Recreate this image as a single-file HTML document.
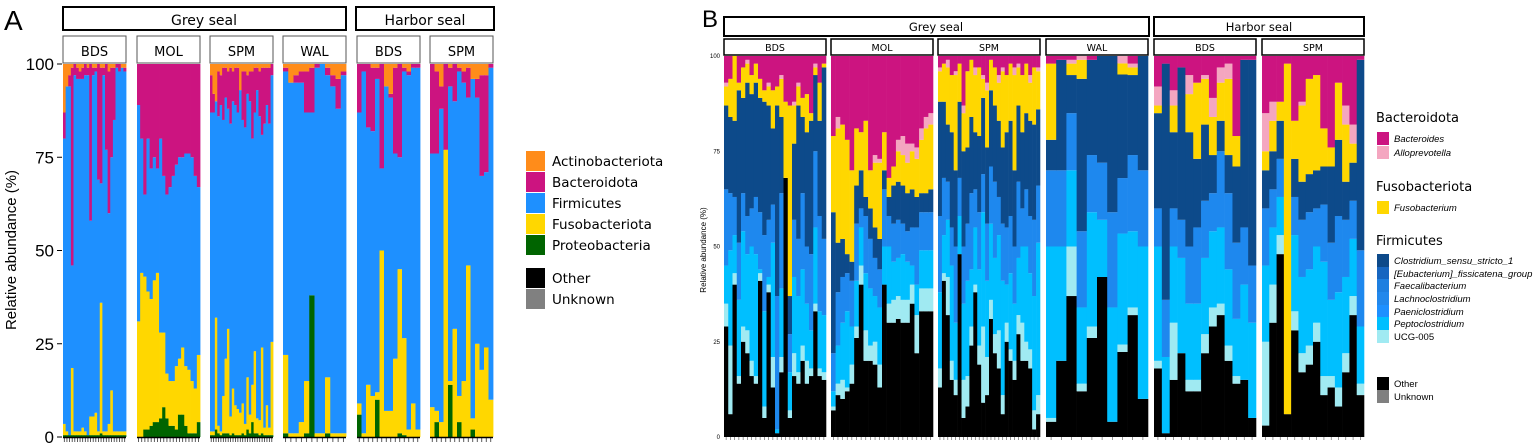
<!DOCTYPE html>
<html><head><meta charset="utf-8"><style>
body{margin:0;background:#fff;}
svg{display:block;font-family:"Liberation Sans",sans-serif;}
.st{font-family:"DejaVu Sans","Liberation Sans",sans-serif;}
</style></head><body>
<svg id="c" width="1535" height="446" viewBox="0 0 1535 446"></svg>
<script>
// ---------- Panel A data (phylum relative abundance %) ----------
const facetsA = ["BDS","MOL","SPM","WAL","BDS","SPM"];
const actinoA = [
 [13,6,3,1,0,1,2,1,0,1,0,1,1,0,1,1,0,2,1,1,0,0,1,1],
 [0,0,0,0,0,0,0,0,0,0,0,0,0,0,0,0,0,0,0,0],
 [3,8,10,2,3,1,1,2,1,2,1,1,7,2,2,3,2,2,1,1,2,1,1,1,1,0],
 [1,5,3,2,2,1,0,0,1,3,4,2],
 [0,0,0,1,1,0,6,8,1,0,1,2,0,0],
 [0,2,6,0,1,0,1,2,1,4,4,3,3,0]];
const bactA = [
 [7,0,3,53,3,3,2,3,3,2,42,2,1,31,31,2,23,38,24,14,1,2,0,1],
 [11,20,35,20,28,25,28,20,30,35,33,30,27,25,25,24,24,25,30,33],
 [10,5,0,12,8,14,8,10,15,8,10,12,0,13,15,5,8,18,12,6,12,18,15,10,15,3],
 [1,0,2,3,11,12,1,0,2,3,8,1],
 [13,2,17,17,3,28,0,1,23,25,1,1,1,1],
 [24,22,6,23,5,10,1,3,8,0,5,27,26,1]];
const fusoA = [
 [3,1,0,18,1,1,1,2,1,0,5,5,6,1,35,1,1,3,12,1,1,1,1,1],
 [31,44,41,37,34,38,40,23,20,12,12,12,17,15,18,16,17,14,12,18],
 [1,1,30,2,1,10,20,28,5,12,8,7,6,8,3,14,5,10,22,4,4,23,2,8,2,25],
 [21,1,1,4,14,0,1,1,15,1,1,1],
 [3,1,14,11,2,50,7,7,21,44,26,2,9,2],
 [8,3,4,77,1,29,7,15,46,3,25,18,24,10]];
const proteoA = [
 [0.5,0.5,0.5,0.5,0.5,0.5,0.5,0.5,0.5,0.5,0.5,0.5,0.5,0.5,1,0.5,0.5,0.5,0.5,0.5,0.5,0.5,0.5,0.5],
 [0,0,2,2,3,4,4,5,8,5,3,3,2,6,6,3,1,1,1,4],
 [0.5,0.5,2,1,0.5,1,1,1,0.5,1,0.5,0.5,0.5,1,0.5,2,1,4,1,1,0.5,1,0.5,0.5,0.5,0.5],
 [1,0,0,0,1,38,0,0,1,0,0,0],
 [6,0,0,0,10,0,0,0,0,1,0.5,0,0,0],
 [0,4,0,0,14,0,4,0,0,2,0,0,0,0]];
const ticksA = ["0","25","50","75","100"];

// ---------- Panel B data (genus relative abundance %) ----------
const facetsB = ["BDS","MOL","SPM","WAL","BDS","SPM"];
const otherB = [
 [29,6,40,14,25,22,16,14,41,5,38,13,1,17,68,5,16,14,20,14,16,33,16,15],
 [7,11,10,12,14,26,40,20,20,19,13,40,30,30,31,30,30,35,22,33,33,33],
 [13,41,32,15,11,48,5,8,24,38,19,9,11,31,22,18,6,25,20,15,27,20,20,18,2,6],
 [4,20,37,12,26,42,4,23,32,10],
 [18,1,15,22,12,12,22,29,32,20,14,15,5],
 [3,30,48,6,28,17,19,25,11,13,8,17,32,11]];
const ucgB = [
 [6,18,3,2,4,6,4,2,2,3,2,8,0,4,0,2,6,3,4,6,2,2,2,2],
 [1,3,5,1,5,3,5,8,4,6,6,0,5,6,6,6,6,5,10,6,6,6],
 [5,2,10,5,4,0,10,8,5,2,5,20,10,5,5,10,5,5,3,5,5,10,5,5,5,5],
 [1,0,13,2,3,0,0,2,2,0],
 [2,0,15,0,3,3,5,5,3,4,2,0,0],
 [22,10,5,0,5,5,5,5,5,3,5,5,5,3]];
const peptoB = [
 [10,25,10,20,25,20,30,32,1,25,2,30,1,18,0,10,20,20,20,15,10,20,15,15],
 [4,10,15,20,10,12,10,15,15,12,15,10,15,10,10,12,10,5,8,10,10,10],
 [20,10,15,25,15,10,20,25,15,15,20,30,20,20,20,25,30,10,20,15,15,20,25,20,30,40],
 [45,30,20,20,30,15,30,30,20,40],
 [30,20,20,25,20,20,20,20,20,20,15,25,25],
 [20,15,10,0,20,20,20,20,30,20,25,20,15,15]];
const paeniB = [
 [20,15,10,15,10,10,10,15,15,20,15,10,35,25,0,10,15,15,20,15,20,20,25,20],
 [10,14,12,10,12,15,5,15,13,10,10,15,8,10,10,8,8,10,15,10,10,10],
 [20,15,10,10,20,10,15,15,20,10,15,10,15,15,20,10,15,15,15,15,20,10,15,15,20,15],
 [20,20,15,20,15,15,25,15,20,20],
 [10,15,10,10,15,20,15,10,20,20,20,15,15],
 [15,10,10,0,10,15,15,10,15,15,20,15,10,20]];
const clostB = [
 [22,20,20,40,25,35,30,30,30,35,30,20,50,20,0,10,20,35,20,30,35,20,25,45],
 [37,13,10,5,5,10,10,5,8,8,8,5,5,10,10,10,10,10,8,5,5,6],
 [30,20,15,25,20,20,25,20,20,15,20,20,20,20,20,20,20,25,25,20,20,20,20,25,25,20],
 [8,29,10,40,25,28,41,28,21,30],
 [25,62,20,40,30,18,20,10,8,10,20,44,54],
 [10,10,10,0,10,10,10,10,10,20,20,10,10,50]];
const fusoB = [
 [5,10,17,2,8,5,5,5,5,3,5,10,5,10,20,50,10,5,5,10,2,2,10,1],
 [20,30,30,30,24,15,10,20,10,17,20,10,5,5,8,8,8,10,10,14,17,17],
 [8,10,15,15,25,10,10,20,15,15,18,5,15,8,10,10,20,15,15,25,10,15,13,10,15,10],
 [20,0,3,5,0,0,0,3,2,0],
 [2,0,7,0,10,20,12,10,10,20,8,0,0],
 [5,8,5,92,10,20,25,25,10,5,15,15,5,0]];
const alloB = [
 [1,0,0,0,0,1,0,0,0,0,1,0,0,1,0,0,1,1,0,0,0,1,0,0],
 [0,3,0,0,0,0,0,0,0,2,1,0,0,0,3,5,5,2,3,3,3,3],
 [1,0,2,0,1,0,2,0,0,2,0,1,2,0,0,2,1,0,0,2,1,0,0,2,0,1],
 [0,0,1,1,0,0,0,2,1,0],
 [5,0,4,0,5,0,1,5,4,4,0,0,0],
 [10,5,0,0,0,1,0,0,0,0,0,5,5,0]];
const ticksB = ["0","25","50","75","100"];

const NS="http://www.w3.org/2000/svg";
const svg=document.getElementById('c');
function el(t,a,p){const e=document.createElementNS(NS,t);for(const k in a)e.setAttribute(k,a[k]);(p||svg).appendChild(e);return e;}
function txt(s,a,p){const e=el('text',a,p);e.textContent=s;return e;}

// ---- Panel A ----
const A={y0:437,y1:64,fx:[63,137,210,283,357,430],fw:63};
const yA=v=>A.y0-(A.y0-A.y1)*Math.min(100,v)/100;
const colA={proteo:"#006400",fuso:"#ffd700",firm:"#1e90ff",bact:"#cc1480",actino:"#ff8c1a"};
txt("A",{x:4,y:30,"font-size":28,fill:"#000"});
const gA=el('g',{});


const stripA1=el('rect',{x:63,y:7,width:283,height:23,fill:"#fff",stroke:"#000","stroke-width":2});


txt("Grey seal",{x:204,y:25,"text-anchor":"middle","font-size":14,class:"st"});
const stripA2=el('rect',{x:356,y:7,width:138,height:23,fill:"#fff",stroke:"#000","stroke-width":2});


txt("Harbor seal",{x:425,y:25,"text-anchor":"middle","font-size":14,class:"st"});
facetsA.forEach((f,i)=>{
  const x=A.fx[i];
  const s=el('rect',{x:x,y:36,width:A.fw,height:27,fill:"#fff",stroke:"#555","stroke-width":1});
  
  
  txt(f,{x:x+A.fw/2,y:56,"text-anchor":"middle","font-size":13,class:"st"});
  const n=bactA[i].length,bw=A.fw/n;
  for(let j=0;j<n;j++){
    const segs=[["proteo",proteoA[i][j]],["fuso",fusoA[i][j]],["firm",0],["bact",bactA[i][j]],["actino",actinoA[i][j]]];
    const firm=100-proteoA[i][j]-fusoA[i][j]-bactA[i][j]-actinoA[i][j];
    segs[2][1]=Math.max(0,firm);
    let cum=0;
    segs.forEach(([k,v])=>{
      if(v<=0||cum>=100)return;
      const r=el('rect',{x:(x+j*bw).toFixed(2),y:yA(cum+v).toFixed(2),width:(bw+0.4).toFixed(2),height:(yA(cum)-yA(cum+v)).toFixed(2),fill:colA[k]},gA);
      
      
      cum+=v;
    });
    el('line',{x1:x+j*bw+bw/2,x2:x+j*bw+bw/2,y1:438,y2:442,stroke:"#333","stroke-width":0.8});
  }
  el('line',{x1:x,x2:x+A.fw,y1:437.5,y2:437.5,stroke:"#000","stroke-width":1.5});
});
ticksA.forEach((t,i)=>{
  const y=yA(i*25);
  txt(t,{x:54,y:y+6,"text-anchor":"end","font-size":17});
  el('line',{x1:57,x2:62,y1:y,y2:y,stroke:"#000"});
});
txt("Relative abundance (%)",{transform:"translate(16,250) rotate(-90)","text-anchor":"middle","font-size":15});
// legend A
const legA=[["Actinobacteriota","#ff8c1a",151],["Bacteroidota","#cc1480",172],["Firmicutes","#1e90ff",193],["Fusobacteriota","#ffd700",214],["Proteobacteria","#006400",235],["Other","#000",268],["Unknown","#808080",289]];
legA.forEach(([n,c,y])=>{
  const r=el('rect',{x:526,y:y,width:19,height:20,fill:c});
  
  
  const t=txt(n,{x:552,y:y+15,"font-size":13.5,class:"st"});
  
  
});

// ---- Panel B ----
const B={y0:437,y1:56,fx:[724,831,938,1046,1154,1262],fw:102};
const yB=v=>B.y0-(B.y0-B.y1)*v/100;
txt("B",{x:702,y:27,"font-size":24});
const gB=el('g',{});


const sB1=el('rect',{x:724,y:17,width:425,height:19,fill:"#fff",stroke:"#000","stroke-width":2});


txt("Grey seal",{x:936,y:31,"text-anchor":"middle","font-size":11.5,class:"st"});
const sB2=el('rect',{x:1154,y:17,width:210,height:19,fill:"#fff",stroke:"#000","stroke-width":2});


txt("Harbor seal",{x:1259,y:31,"text-anchor":"middle","font-size":11.5,class:"st"});
const colB=["#000","#a0eaf2","#00bfff","#1e88ee","#0d4a8a","#ffd700","#f4a6c0","#cc1480"];
const keysB=["other","ucg-005","peptoclostridium","paeniclostridium","clostridium","fusobacterium","alloprevotella","bacteroides"];
facetsB.forEach((f,i)=>{
  const x=B.fx[i];
  const s=el('rect',{x:x,y:39,width:B.fw,height:16,fill:"#fff",stroke:"#000","stroke-width":1.5});
  
  
  txt(f,{x:x+B.fw/2,y:51,"text-anchor":"middle","font-size":9.5,class:"st"});
  const n=otherB[i].length,bw=B.fw/n;
  for(let j=0;j<n;j++){
    let vals=[otherB[i][j],ucgB[i][j],peptoB[i][j],paeniB[i][j],clostB[i][j],fusoB[i][j],alloB[i][j]];
    let sum=vals.reduce((a,b)=>a+b,0);
    if(sum>100){vals=vals.map(v=>v*100/sum);sum=100;}
    vals.push(100-sum);
    let cum=0;
    vals.forEach((v,k)=>{
      if(v<=0)return;
      const r=el('rect',{x:(x+j*bw).toFixed(2),y:yB(cum+v).toFixed(2),width:(bw+0.3).toFixed(2),height:(yB(cum)-yB(cum+v)).toFixed(2),fill:colB[k]},gB);
      
      
      cum+=v;
    });
    el('line',{x1:x+j*bw+bw/2,x2:x+j*bw+bw/2,y1:437,y2:440,stroke:"#555","stroke-width":0.6});
  }
});
ticksB.forEach((t,i)=>{
  const y=yB(i*25);
  txt(t,{x:720,y:y+2,"text-anchor":"end","font-size":6});
});
txt("Relative abundance (%)",{transform:"translate(706,250) rotate(-90)","text-anchor":"middle","font-size":8});
// legend B
[["Bacteroidota",122],["Fusobacteriota",191],["Firmicutes",245]].forEach(([n,y])=>{
  const t=txt(n,{x:1376,y:y,"font-size":13,class:"st"});
  
  
});
const legB=[["Bacteroides","#cc1480",138,1],["Alloprevotella","#f4a6c0",152,1],["Fusobacterium","#ffd700",207,1],
["Clostridium_sensu_stricto_1","#0d4a8a",260,1],["[Eubacterium]_fissicatena_group","#1766c0",273,1],["Faecalibacterium","#1e7fe0",285,1],
["Lachnoclostridium","#2288ec",298,1],["Paeniclostridium","#1e90ff",311,1],["Peptoclostridium","#00bfff",323,1],["UCG-005","#a0eaf2",336,0],
["Other","#000",383,0],["Unknown","#808080",396,0]];
legB.forEach(([n,c,y,it])=>{
  const r=el('rect',{x:1377,y:y-6,width:12,height:13,fill:c});
  
  
  const t=txt(n,{x:1394,y:y+4,"font-size":9.5,"font-style":it?"italic":"normal"});
  
  
});
</script>
</body></html>
